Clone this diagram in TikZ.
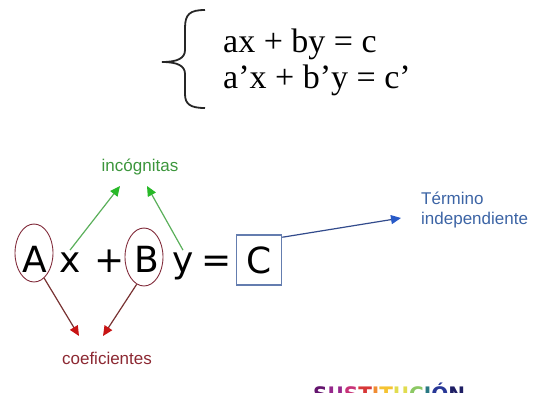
\documentclass[tikz,border=0pt]{standalone}
\usepackage{fontspec}
\setmainfont{Liberation Serif}
\newfontfamily\eqfont{DejaVu Sans}
\newfontfamily\labfont{Liberation Sans}
\newfontfamily\sustfont{DejaVu Sans}
\usepackage{tikz}
\usetikzlibrary{positioning,shapes.geometric,arrows.meta}
\definecolor{incline}{RGB}{90,175,90}
\definecolor{inchead}{RGB}{40,185,40}
\definecolor{inctext}{RGB}{60,150,60}
\definecolor{coefline}{RGB}{120,50,50}
\definecolor{coefhead}{RGB}{200,20,20}
\definecolor{coeftext}{RGB}{140,40,50}
\definecolor{ringred}{RGB}{130,45,60}
\definecolor{termline}{RGB}{50,75,140}
\definecolor{termhead}{RGB}{40,90,200}
\definecolor{termtext}{RGB}{60,100,165}
\definecolor{boxblue}{RGB}{100,125,175}
\definecolor{su1}{RGB}{100,20,110}
\definecolor{su2}{RGB}{150,40,140}
\definecolor{su3}{RGB}{200,50,120}
\definecolor{su4}{RGB}{215,55,55}
\definecolor{su5}{RGB}{240,140,50}
\definecolor{su6}{RGB}{245,195,50}
\definecolor{su7}{RGB}{225,220,80}
\definecolor{su8}{RGB}{140,200,100}
\definecolor{su9}{RGB}{40,120,130}
\definecolor{su10}{RGB}{40,55,150}
\definecolor{su11}{RGB}{30,30,100}
\tikzset{
  glyph/.style={
    anchor=base,
    inner sep=2pt,
    font=\eqfont\fontsize{36}{40}\selectfont,
  },
  ring/.style={
    draw=ringred,
    ellipse,
    line width=0.9pt,
    minimum width=38pt,
    minimum height=58pt,
    inner sep=0pt,
  },
  cbox/.style={
    draw=boxblue,
    rectangle,
    line width=1.5pt,
    minimum width=45pt,
    minimum height=50pt,
    inner sep=0pt,
    font=\eqfont\fontsize{36}{40}\selectfont,
  },
  sysline/.style={anchor=base west, inner sep=0pt, font=\fontsize{34}{38}\selectfont},
  lab/.style={inner sep=0pt, font=\labfont\fontsize{17}{20}\selectfont},
  incarrow/.style={draw=incline, line width=1.2pt, -{Triangle[length=10pt,width=9pt,color=inchead]}},
  coefarrow/.style={draw=coefline, line width=1.2pt, -{Triangle[length=10pt,width=9pt,color=coefhead]}},
  termarrow/.style={draw=termline, line width=1.2pt, -{Triangle[length=10pt,width=9pt,color=termhead]}},
}

\begin{document}
\begin{tikzpicture}[x=1pt,y=-1pt]
  \useasboundingbox (0,0) rectangle (549,392);
  \clip (0,0) rectangle (549,392);
  % system of equations
  \draw[line width=1.8pt, black!85]
    (205,10) .. controls (190,10) and (185,14) .. (185,28) -- (185,50)
    .. controls (185,58) and (178,62) .. (162,62)
    .. controls (178,62) and (185,66) .. (185,74) -- (185,94)
    .. controls (185,104) and (190,108) .. (205,108);
  \node[sysline] (eq1) at (223,52) {ax + by = c};
  \node[sysline] (eq2) at (223,88) {a’x + b’y = c’};

  % Ax + By = C
  \foreach \name/\gl/\px in {A/A/35, xv/x/70, plus/+/110, B/B/147, yv/y/183, eqs/=/217} {
    \node[glyph] (\name) at (\px,272) {\gl};
  }
  \node[ring] (ringA) at (34,253) {};
  \node[ring] (ringB) at (144,257) {};
  \node[cbox] (C) at (259,260) {C};

  % labels
  \node[lab, text=inctext] (inc) at (140,167) {incógnitas};
  \node[lab, text=coeftext] (coef) at (107,358) {coeficientes};
  \node[lab, text=termtext, anchor=west, align=left] (term) at (421,210) {Término\\independiente};
  \coordinate (incL) at (120,186);
  \coordinate (incR) at (147,186);
  \coordinate (coefL) at (79,336);
  \coordinate (coefR) at (103,336);
  \coordinate (termT) at (401,218);

  \draw[incarrow] (xv.north) -- (incL);
  \draw[incarrow] (yv.north) -- (incR);
  \draw[coefarrow] (ringA.-68) -- (coefL);
  \draw[coefarrow] (ringB.-105) -- (coefR);
  \draw[termarrow] ([yshift=-3pt]C.north east) -- (termT);

  % title, cut at the lower edge
  \node[anchor=base west, inner sep=0pt, font=\sustfont\bfseries\fontsize{20}{24}\selectfont] (sust) at (313,401)
    {\textcolor{su1}{S}\textcolor{su2}{U}\textcolor{su3}{S}\textcolor{su4}{T}\textcolor{su5}{I}\textcolor{su6}{T}\textcolor{su7}{U}\textcolor{su8}{C}\textcolor{su9}{I}\textcolor{su10}{Ó}\textcolor{su11}{N}};
\end{tikzpicture}
\end{document}
